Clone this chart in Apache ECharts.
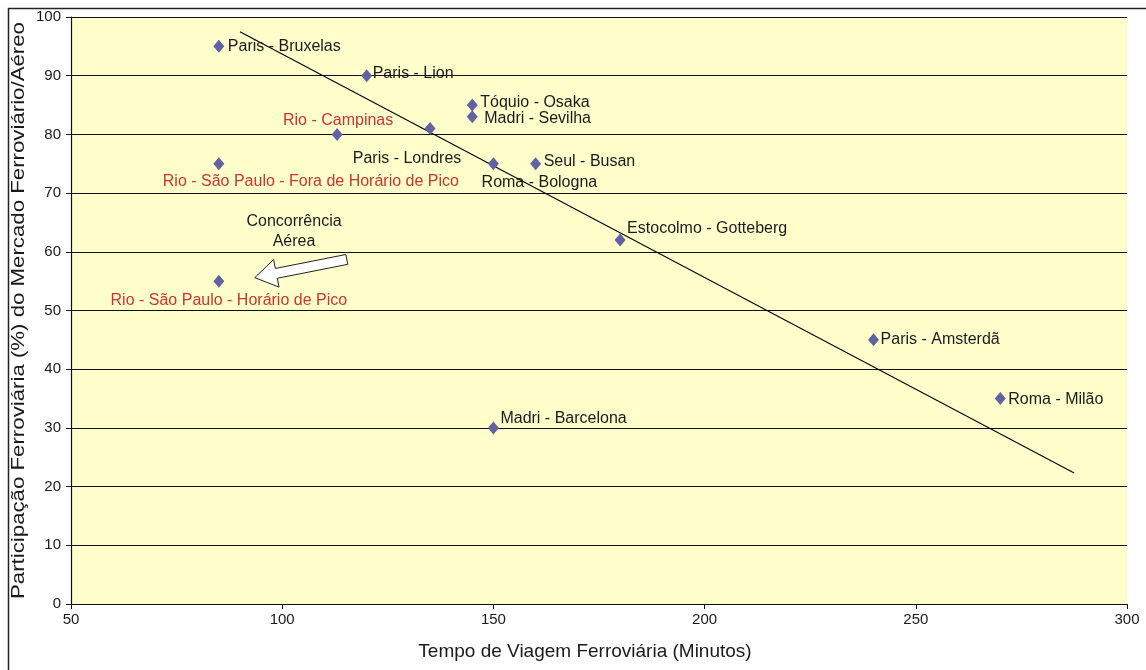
<!DOCTYPE html>
<html>
<head>
<meta charset="utf-8">
<script src="https://cdn.jsdelivr.net/npm/echarts@6/dist/echarts.min.js"></script>
<style>html,body{margin:0;padding:0;background:#fff}#c{width:1146px;height:670px}</style>
</head>
<body>
<div id="c"></div>
<script>
// ---- data ----
const routeNames = ['Paris - Bruxelas','Paris - Lion','Tóquio - Osaka','Madri - Sevilha','Rio - Campinas','Paris - Londres','Rio - São Paulo - Fora de Horário de Pico','Roma - Bologna','Seul - Busan','Estocolmo - Gotteberg','Rio - São Paulo - Horário de Pico','Paris - Amsterdã','Roma - Milão','Madri - Barcelona'];
const travelMinutes = [85, 120, 145, 145, 113, 135, 85, 150, 160, 180, 85, 240, 270, 150];
const railShare    = [95, 90, 85, 83, 80, 81, 75, 75, 75, 62, 55, 45, 35, 30];
const isBrazil     = [false,false,false,false,true,false,true,false,false,false,true,false,false,false];
const trendLine    = [[90, 97.5], [287.5, 22.3]];
const arrowFromTo  = [[115.3, 58.7], [93.5, 55.6]];
const noteText     = 'Concorrência\nAérea';
const notePoint    = [102.8, 63.4];
const xTicks = {min: 50, max: 300, interval: 50};
const yTicks = {min: 0, max: 100, interval: 10};
const xName = 'Tempo de Viagem Ferroviária (Minutos)';
const yName = 'Participação Ferroviária (%) do Mercado Ferroviário/Aéreo';

// ---- label layout (styles, not data) ----
const labelLayout = [
  ['left', 9, 0], ['left', 6, -2], ['left', 8, -2], ['left', 12, 2],
  ['center', 1, -14], ['center', -23, 30], ['center', 92, 18], ['center', 46, 19],
  ['left', 8, -2], ['left', 7, -11], ['center', 10, 19], ['left', 7, 0],
  ['left', 8, 1], ['left', 7, -9]
];

const FONT = 'Liberation Sans, Arial, sans-serif';
const points = routeNames.map((n, i) => ({
  name: n,
  value: [travelMinutes[i], railShare[i]],
  label: {
    show: true, formatter: n, position: 'inside',
    align: labelLayout[i][0], verticalAlign: 'middle',
    offset: [labelLayout[i][1], labelLayout[i][2]],
    color: isBrazil[i] ? '#CC3333' : '#1a1a1a',
    fontSize: 16, fontFamily: FONT
  }
}));

const chart = echarts.init(document.getElementById('c'));
chart.setOption({
  animation: false,
  backgroundColor: '#fff',
  graphic: [
    {type: 'rect', z: 100, silent: true,
      shape: {x: 8.5, y: 8.5, width: 1150, height: 680}, style: {fill: 'none', stroke: '#222', lineWidth: 1.5}},
    {type: 'text', z: 100, silent: true, x: 19, y: 310.5, rotation: Math.PI / 2, scaleX: 1.17,
      style: {text: yName, fontSize: 19, fontFamily: FONT, fill: '#1a1a1a', align: 'center', verticalAlign: 'middle'}}
  ],
  grid: {left: 71, top: 17, right: 19, bottom: 66, show: true, backgroundColor: '#FFFFCC', borderWidth: 0},
  xAxis: {
    type: 'value', min: xTicks.min, max: xTicks.max, interval: xTicks.interval,
    name: xName, nameLocation: 'middle', nameGap: 38,
    nameTextStyle: {fontSize: 19, color: '#1a1a1a', fontFamily: FONT, padding: [0, 28, 0, 0]},
    axisLine: {show: true, lineStyle: {color: '#111', width: 1.2}},
    axisTick: {show: true, length: 5, lineStyle: {color: '#111'}},
    axisLabel: {fontSize: 15, color: '#1a1a1a', fontFamily: FONT, margin: 8},
    splitLine: {show: false}
  },
  yAxis: {
    type: 'value', min: yTicks.min, max: yTicks.max, interval: yTicks.interval,
    axisLine: {show: true, lineStyle: {color: '#111', width: 1.2}},
    axisTick: {show: true, length: 5, lineStyle: {color: '#111'}},
    axisLabel: {fontSize: 15, color: '#1a1a1a', fontFamily: FONT, margin: 10},
    splitLine: {show: true, lineStyle: {color: '#111', width: 1.2}}
  },
  series: [
    {
      type: 'line', data: trendLine, symbol: 'none', z: 3,
      lineStyle: {color: '#000', width: 1.1}
    },
    {
      type: 'scatter', data: points, symbol: 'diamond', symbolSize: [11, 13], z: 4,
      itemStyle: {color: '#6262A2', opacity: 1}
    },
    {
      type: 'scatter', data: [{value: notePoint}], symbolSize: 0, z: 5,
      itemStyle: {opacity: 1},
      label: {show: true, formatter: noteText, position: 'inside', align: 'center',
        color: '#1a1a1a', fontSize: 16, fontFamily: FONT, lineHeight: 20}
    },
    {
      type: 'custom', z: 6, data: [arrowFromTo[0].concat(arrowFromTo[1])],
      renderItem: function (params, api) {
        const a = api.coord([api.value(0), api.value(1)]);
        const b = api.coord([api.value(2), api.value(3)]);
        const dx = b[0] - a[0], dy = b[1] - a[1];
        const L = Math.sqrt(dx * dx + dy * dy);
        const ux = dx / L, uy = dy / L, nx = -uy, ny = ux;
        const head = 22, hw = 14, sw = 5;
        const hb = [b[0] - ux * head, b[1] - uy * head];
        const pts = [
          [a[0] + nx * sw, a[1] + ny * sw],
          [hb[0] + nx * sw, hb[1] + ny * sw],
          [hb[0] + nx * hw, hb[1] + ny * hw],
          b,
          [hb[0] - nx * hw, hb[1] - ny * hw],
          [hb[0] - nx * sw, hb[1] - ny * sw],
          [a[0] - nx * sw, a[1] - ny * sw]
        ];
        return {type: 'polygon', shape: {points: pts},
          style: {fill: '#fff', stroke: '#222', lineWidth: 1}};
      }
    }
  ]
});
</script>
</body>
</html>
